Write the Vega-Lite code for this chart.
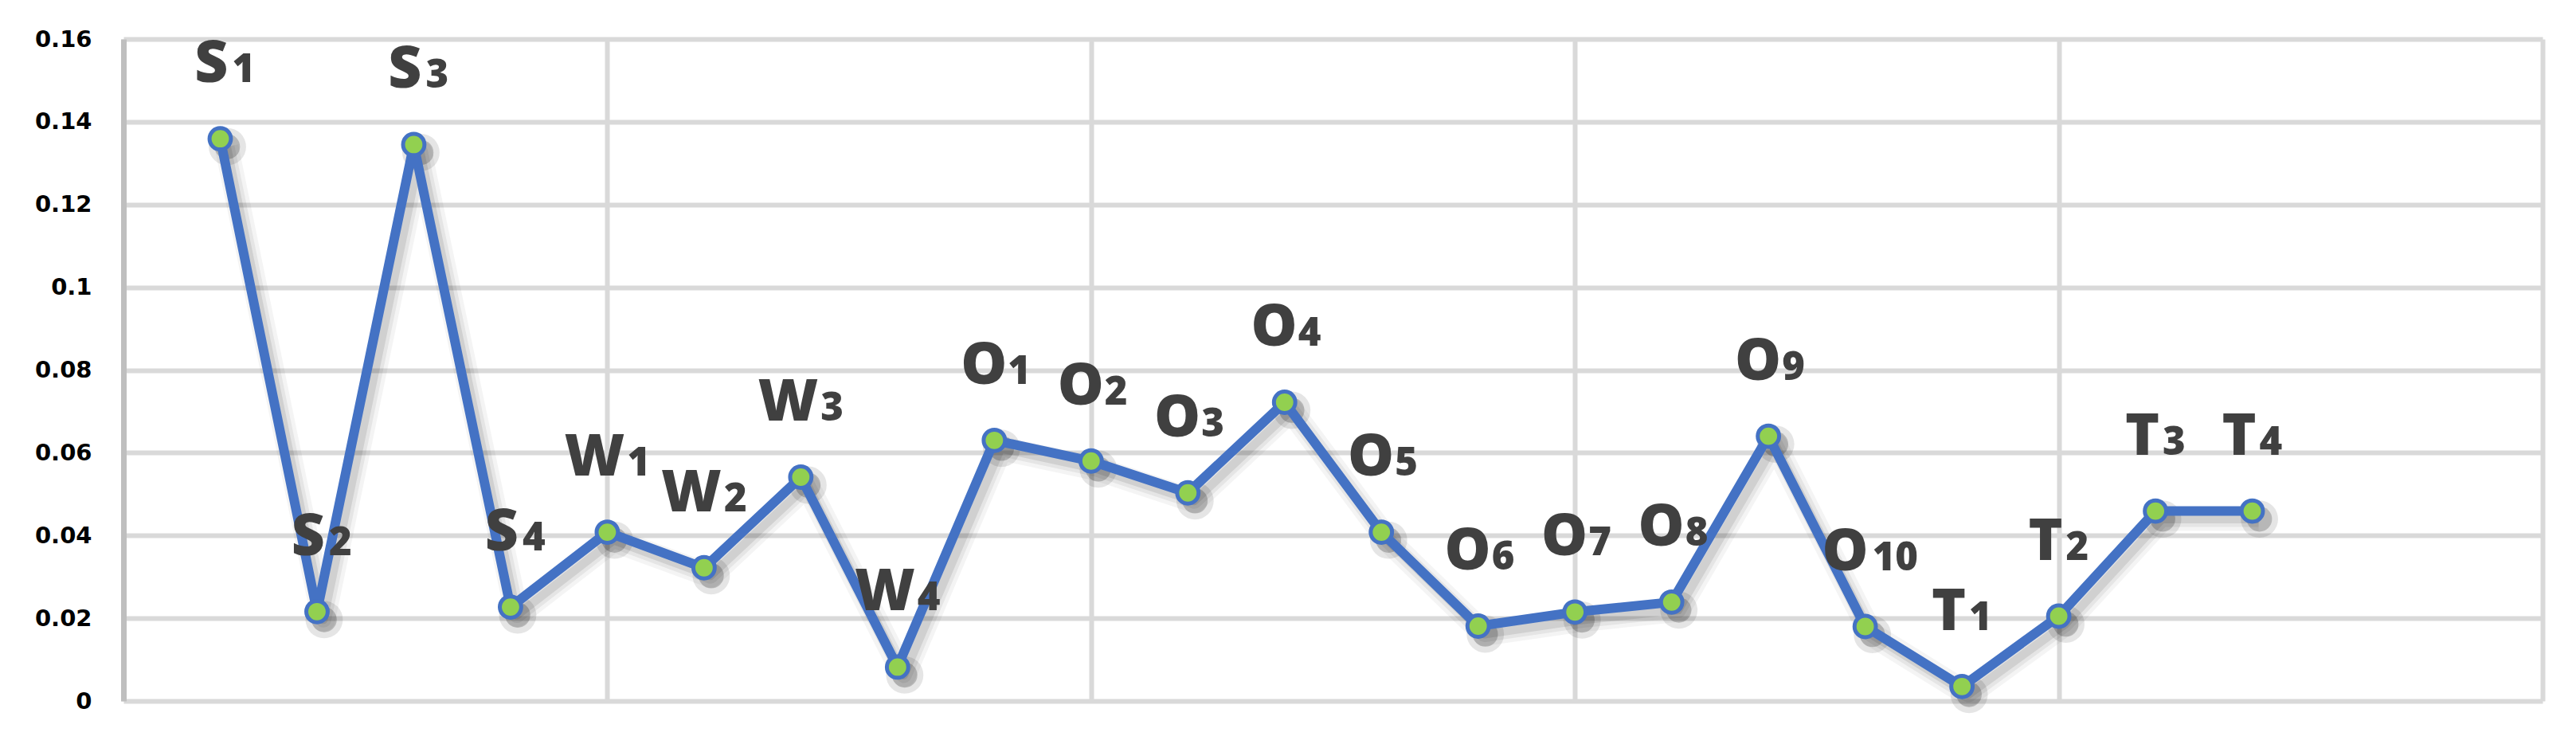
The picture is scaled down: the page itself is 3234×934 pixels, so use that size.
{
  "$schema": "https://vega.github.io/schema/vega-lite/v6.json",
  "autosize": "none",
  "width": 3037,
  "height": 831,
  "padding": {"left": 155, "top": 49, "right": 42, "bottom": 54},
  "background": "white",
  "config": {"view": {"stroke": null}},
  "data": {"values": [
    {"i": 1, "letter": "S", "num": "1", "v": 0.1359},
    {"i": 2, "letter": "S", "num": "2", "v": 0.0216},
    {"i": 3, "letter": "S", "num": "3", "v": 0.1345},
    {"i": 4, "letter": "S", "num": "4", "v": 0.0227},
    {"i": 5, "letter": "W", "num": "1", "v": 0.0408},
    {"i": 6, "letter": "W", "num": "2", "v": 0.0322},
    {"i": 7, "letter": "W", "num": "3", "v": 0.0541},
    {"i": 8, "letter": "W", "num": "4", "v": 0.0082},
    {"i": 9, "letter": "O", "num": "1", "v": 0.0630},
    {"i": 10, "letter": "O", "num": "2", "v": 0.0580},
    {"i": 11, "letter": "O", "num": "3", "v": 0.0503},
    {"i": 12, "letter": "O", "num": "4", "v": 0.0722},
    {"i": 13, "letter": "O", "num": "5", "v": 0.0408},
    {"i": 14, "letter": "O", "num": "6", "v": 0.0181},
    {"i": 15, "letter": "O", "num": "7", "v": 0.0215},
    {"i": 16, "letter": "O", "num": "8", "v": 0.0239},
    {"i": 17, "letter": "O", "num": "9", "v": 0.0640},
    {"i": 18, "letter": "O", "num": "10", "v": 0.0180},
    {"i": 19, "letter": "T", "num": "1", "v": 0.0035},
    {"i": 20, "letter": "T", "num": "2", "v": 0.0205},
    {"i": 21, "letter": "T", "num": "3", "v": 0.0459},
    {"i": 22, "letter": "T", "num": "4", "v": 0.0459}
  ]},
  "encoding": {
    "x": {"field": "i", "type": "quantitative",
      "scale": {"domain": [0, 25], "nice": false, "zero": false},
      "axis": {"values": [0, 5, 10, 15, 20, 25], "labels": false, "ticks": false, "domain": false, "title": null,
        "grid": true, "gridColor": "#D9D9D9", "gridWidth": 6}},
    "y": {"field": "v", "type": "quantitative",
      "scale": {"domain": [0, 0.16], "nice": false},
      "axis": {"values": [0, 0.02, 0.04, 0.06, 0.08, 0.1, 0.12, 0.14, 0.16], "format": "~f", "title": null,
        "ticks": false, "labelPadding": 40, "labelFont": "DejaVu Sans", "labelFontWeight": "bold", "labelFontSize": 29,
        "labelColor": "#000000", "domainColor": "#BFBFBF", "domainWidth": 7,
        "grid": true, "gridColor": "#D9D9D9", "gridWidth": 6}}
  },
  "layer": [
    {"mark": {"type": "line", "color": "#000000", "opacity": 0.045, "strokeWidth": 30, "strokeJoin": "round", "xOffset": 8, "yOffset": 10}},
    {"mark": {"type": "line", "color": "#000000", "opacity": 0.06, "strokeWidth": 20, "strokeJoin": "round", "xOffset": 8, "yOffset": 10}},
    {"mark": {"type": "line", "color": "#000000", "opacity": 0.09, "strokeWidth": 11, "strokeJoin": "round", "xOffset": 8, "yOffset": 10}},
    {"mark": {"type": "circle", "color": "#000000", "opacity": 0.1, "size": 2200, "xOffset": 9, "yOffset": 10}},
    {"mark": {"type": "circle", "color": "#000000", "opacity": 0.2, "size": 1000, "xOffset": 9, "yOffset": 10}},
    {"mark": {"type": "line", "color": "#4472C4", "strokeWidth": 12, "strokeJoin": "round"}},
    {"mark": {"type": "circle", "fill": "#92D050", "stroke": "#4472C4", "strokeWidth": 5, "size": 720, "opacity": 1}},
    {"transform": [{"filter": "datum.letter == 'S'"}],
     "layer": [
      {"mark": {"type": "text", "align": "right", "baseline": "alphabetic", "dx": 10, "dy": -71, "font": "Open Sans", "fontWeight": 800, "fontSize": 73, "color": "#404040"}, "encoding": {"text": {"field": "letter"}}},
      {"mark": {"type": "text", "align": "left", "baseline": "alphabetic", "dx": 15, "dy": -71, "font": "Open Sans", "fontWeight": 800, "fontSize": 49, "color": "#404040"}, "encoding": {"text": {"field": "num"}}}
     ]},
    {"transform": [{"filter": "datum.letter == 'W'"}],
     "layer": [
      {"mark": {"type": "text", "align": "right", "baseline": "alphabetic", "dx": 22, "dy": -71, "font": "Open Sans", "fontWeight": 800, "fontSize": 73, "color": "#404040"}, "encoding": {"text": {"field": "letter"}}},
      {"mark": {"type": "text", "align": "left", "baseline": "alphabetic", "dx": 25, "dy": -71, "font": "Open Sans", "fontWeight": 800, "fontSize": 49, "color": "#404040"}, "encoding": {"text": {"field": "num"}}}
     ]},
    {"transform": [{"filter": "datum.letter == 'O' && datum.num != '10'"}],
     "layer": [
      {"mark": {"type": "text", "align": "right", "baseline": "alphabetic", "dx": 16, "dy": -71, "font": "Open Sans", "fontWeight": 800, "fontSize": 73, "color": "#404040"}, "encoding": {"text": {"field": "letter"}}},
      {"mark": {"type": "text", "align": "left", "baseline": "alphabetic", "dx": 17, "dy": -71, "font": "Open Sans", "fontWeight": 800, "fontSize": 49, "color": "#404040"}, "encoding": {"text": {"field": "num"}}}
     ]},
    {"transform": [{"filter": "datum.letter == 'O' && datum.num == '10'"}],
     "layer": [
      {"mark": {"type": "text", "align": "right", "baseline": "alphabetic", "dx": 4, "dy": -71, "font": "Open Sans", "fontWeight": 800, "fontSize": 73, "color": "#404040"}, "encoding": {"text": {"field": "letter"}}},
      {"mark": {"type": "text", "align": "left", "baseline": "alphabetic", "dx": 9, "dy": -71, "font": "Open Sans", "fontWeight": 800, "fontSize": 49, "color": "#404040"}, "encoding": {"text": {"field": "num"}}}
     ]},
    {"transform": [{"filter": "datum.letter == 'T'"}],
     "layer": [
      {"mark": {"type": "text", "align": "right", "baseline": "alphabetic", "dx": 5, "dy": -71, "font": "Open Sans", "fontWeight": 800, "fontSize": 73, "color": "#404040"}, "encoding": {"text": {"field": "letter"}}},
      {"mark": {"type": "text", "align": "left", "baseline": "alphabetic", "dx": 9, "dy": -71, "font": "Open Sans", "fontWeight": 800, "fontSize": 49, "color": "#404040"}, "encoding": {"text": {"field": "num"}}}
     ]}
  ]
}
